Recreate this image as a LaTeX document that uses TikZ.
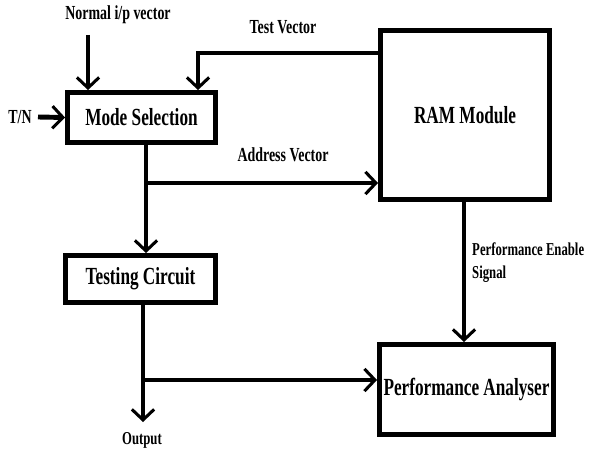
\documentclass[tikz,border=0pt]{standalone}
\usepackage{fontspec}
\setmainfont{Liberation Serif}[FakeStretch=0.7]
\usetikzlibrary{arrows.meta}

\begin{document}
\begin{tikzpicture}
    [
    x=0.03cm, y=-0.03cm,
    block/.style={rectangle,draw,line width=4.2pt,inner sep=0pt,
      font=\fontsize{21}{24}\selectfont\bfseries},
    txt/.style={inner sep=0pt,font=\fontsize{17}{20}\selectfont\bfseries},
    smalltxt/.style={inner sep=0pt,font=\fontsize{15.5}{19.5}\selectfont\bfseries},
    edge/.style={line width=4.2pt,-{Straight Barb[length=9pt,width=19pt,line width=2.6pt]}},
    line/.style={line width=4.2pt}
    ]
\useasboundingbox (0,0) rectangle (593,452);
\node[block,minimum width=4.44cm,minimum height=1.5cm] (ms) at (141.5,117.5) {Mode Selection};
\node[block,minimum width=5.07cm,minimum height=5.07cm] (ram) at (465,115) {RAM Module};
\node[block,minimum width=4.5cm,minimum height=1.41cm] (tc) at (140.5,279) {Testing Circuit};
\node[block,minimum width=5.22cm,minimum height=2.7cm] (pa) at (466.5,389.5) {Performance Analyser};
\node[txt] (nv) at (118,15) {Normal i/p vector};
\node[txt] (tv) at (283,27) {Test Vector};
\node[txt] (tn) at (20,117) {T/N};
\node[txt] (av) at (283,155) {Address Vector};
\node[smalltxt] (out) at (142,440) {Output};
\node[smalltxt,anchor=west,align=left] (pe) at (472,263) {Performance Enable\\Signal};
\coordinate (nvs) at (88,35);
\coordinate (tns) at (38,117);
\coordinate (tvb) at (198,53);
\coordinate (avb) at (146,183);
\coordinate (ob) at (143,380);
\coordinate (oe) at (143,422);
\coordinate (pes) at (464,200);
\draw[edge] (nvs) -- (nvs |- ms.north);
\draw[edge] (tns) -- (ms.west);
\draw[edge] (tvb -| ram.west) -- (tvb) -- (tvb |- ms.north);
\draw[edge] (avb |- ms.south) -- (avb |- tc.north);
\draw[edge] (avb) -- (avb -| ram.west);
\draw[edge] (pes |- ram.south) -- (pes |- pa.north);
\draw[line] (ob |- tc.south) -- (ob);
\draw[edge] (ob) -- (oe);
\draw[edge] (ob) -- (ob -| pa.west);
\end{tikzpicture}
\end{document}
